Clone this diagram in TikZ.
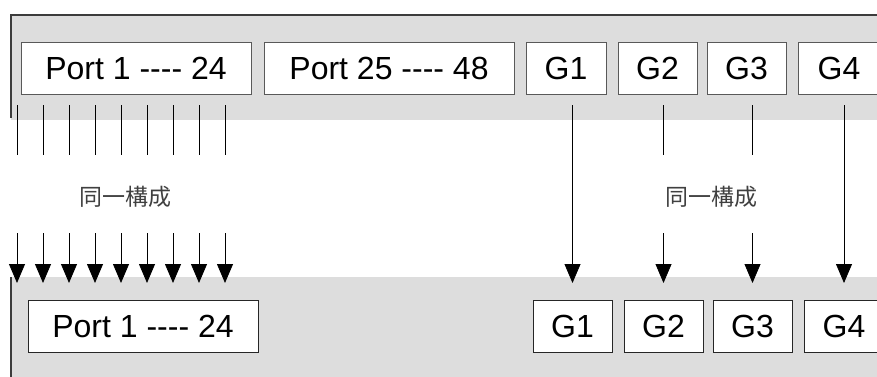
\documentclass[tikz,border=0pt]{standalone}
\usepackage{fontspec}
\setmainfont{Liberation Sans}
\newfontfamily\jpfont{Noto Sans CJK JP}
\usetikzlibrary{arrows.meta,positioning}
\definecolor{panelgray}{RGB}{221,221,221}
\definecolor{edgegray}{RGB}{60,60,60}
\tikzset{
      portbox/.style = {rectangle, fill=white, draw=gray!70!black, line width=1pt,
                        minimum height=52pt, inner sep=0pt, outer sep=0pt,
                        font=\fontsize{32}{36}\selectfont},
      lowbox/.style  = {portbox, draw=black!85},
      tick/.style    = {black, line width=0.8pt},
      drop/.style    = {black, line width=0.8pt, -{Triangle[length=19pt,width=16pt]}},
      samecfg/.style = {font=\jpfont\fontsize{23}{26}\selectfont, text=black!75},
    }

\begin{document}
\begin{tikzpicture}[x=1pt,y=-1pt,node distance=12pt]
          \useasboundingbox (0,0) rectangle (877,376);
          % panels
          \fill[panelgray] (11,15) rectangle (880,120);
          \draw[edgegray, line width=2pt] (11,118) -- (11,15) -- (880,15);
          \fill[panelgray] (11,277) rectangle (880,380);
          \draw[edgegray, line width=1.5pt] (11,277) -- (11,380);

          % upper row
          \node[portbox, minimum width=230pt, anchor=north west] (tp1) at (21,42) {Port 1 -{}-{}-{}- 24};
          \node[portbox, minimum width=250pt, right=13pt of tp1] (tp25) {Port 25 -{}-{}-{}- 48};
          \node[portbox, minimum width=80pt, right=of tp25] (tg1) {G1};
          \node[portbox, minimum width=79pt, right=of tg1] (tg2) {G2};
          \node[portbox, minimum width=79pt, right=10pt of tg2] (tg3) {G3};
          \node[portbox, minimum width=82pt, right=of tg3] (tg4) {G4};

          % lower row
          \node[lowbox, minimum width=230pt, anchor=north west] (bp1) at (28,300) {Port 1 -{}-{}-{}- 24};
          \node[lowbox, minimum width=79pt, anchor=north west] (bg1) at (533,300) {G1};
          \node[lowbox, minimum width=79pt, right=of bg1] (bg2) {G2};
          \node[lowbox, minimum width=79pt, right=10pt of bg2] (bg3) {G3};
          \node[lowbox, minimum width=80pt, right=of bg3] (bg4) {G4};

          \node[samecfg] (samel) at (125,197) {同一構成};
          \node[samecfg] (samer) at (711,197) {同一構成};

          % port lines
          \foreach \i in {0,...,8} {
            \coordinate (ta\i) at (17+26*\i,105);
            \coordinate (tb\i) at (17+26*\i,155);
            \coordinate (da\i) at (17+26*\i,233);
            \coordinate (db\i) at (17+26*\i,283);
            \draw[tick] (ta\i) -- (tb\i);
            \draw[drop] (da\i) -- (db\i);
          }
          % uplink lines
          \foreach \g in {1,4}
            \draw[drop] (bg\g |- 0,105) -- (bg\g |- 0,283);
          \foreach \g in {2,3} {
            \draw[tick] (bg\g |- 0,105) -- (bg\g |- 0,155);
            \draw[drop] (bg\g |- 0,233) -- (bg\g |- 0,283);
          }
\end{tikzpicture}
\end{document}
